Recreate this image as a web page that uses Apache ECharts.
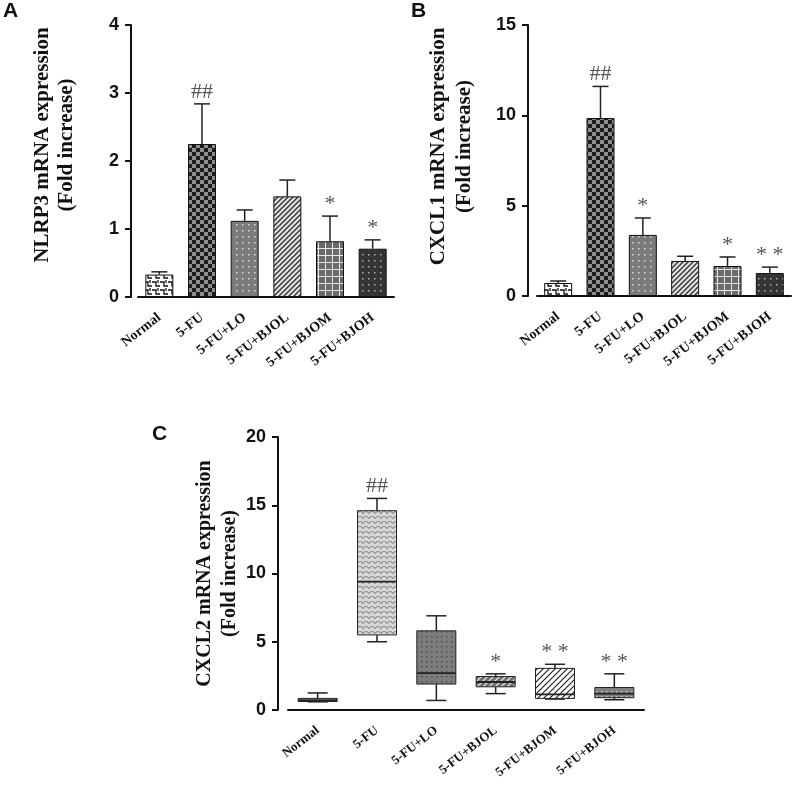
<!DOCTYPE html>
<html>
<head>
<meta charset="utf-8">
<script src="https://cdn.jsdelivr.net/npm/echarts@6/dist/echarts.min.js"></script>
<style>
  html, body { margin: 0; padding: 0; background: #fff; }
  #main { width: 803px; height: 786px; }
</style>
</head>
<body>
<div id="main"></div>
<script>
// groups (same for all three panels)
var groups = ['Normal', '5-FU', '5-FU+LO', '5-FU+BJOL', '5-FU+BJOM', '5-FU+BJOH'];

// A: NLRP3 mean and mean+SD
var nlrp3Mean = [0.33, 2.25, 1.12, 1.48, 0.82, 0.71];
var nlrp3Upper = [0.37, 2.84, 1.28, 1.72, 1.19, 0.84];
var nlrp3Sig = ['', '##', '', '', '*', '*'];

// B: CXCL1 mean and mean+SD
var cxcl1Mean = [0.72, 9.85, 3.38, 1.94, 1.66, 1.27];
var cxcl1Upper = [0.83, 11.6, 4.32, 2.2, 2.16, 1.6];
var cxcl1Sig = ['', '##', '*', '', '*', '* *'];

// C: CXCL2 box plot
var cxcl2Min = [0.6, 5.0, 0.7, 1.2, 0.8, 0.75];
var cxcl2Q1 = [0.62, 5.5, 1.9, 1.7, 0.85, 0.9];
var cxcl2Median = [0.72, 9.4, 2.7, 2.05, 1.15, 1.2];
var cxcl2Q3 = [0.85, 14.6, 5.8, 2.45, 3.05, 1.65];
var cxcl2Max = [1.25, 15.5, 6.9, 2.65, 3.35, 2.65];
var cxcl2Sig = ['', '##', '', '*', '* *', '* *'];

var yTicksA = [0, 4, 1];
var yTicksB = [0, 15, 5];
var yTicksC = [0, 20, 5];

// 图案填充
function pattern(w, h, bg, draw) {
    var c = document.createElement('canvas');
    c.width = w; c.height = h;
    var ctx = c.getContext('2d');
    ctx.fillStyle = bg;
    ctx.fillRect(0, 0, w, h);
    if (draw) draw(ctx, w, h);
    return {image: c, repeat: 'repeat'};
}
function dots(bg, fg, s) {
    return pattern(s, s, bg, function (ctx) {
        ctx.fillStyle = fg;
        ctx.fillRect(Math.floor(s / 2) - 1, Math.floor(s / 2) - 1, 1.5, 1.5);
    });
}
function diag(bg, fg, s, lw) {
    return pattern(s, s, bg, function (ctx) {
        ctx.strokeStyle = fg;
        ctx.lineWidth = lw;
        ctx.beginPath();
        ctx.moveTo(-s, s * 2); ctx.lineTo(s * 2, -s);
        ctx.moveTo(-s, s); ctx.lineTo(s, -s);
        ctx.moveTo(0, s * 2); ctx.lineTo(s * 2, 0);
        ctx.stroke();
    });
}
var checker = pattern(8, 8, '#8e8e8e', function (ctx) {
    ctx.fillStyle = '#1c1c1c';
    ctx.fillRect(0, 0, 4, 4);
    ctx.fillRect(4, 4, 4, 4);
});
var maze = pattern(8, 8, '#ffffff', function (ctx) {
    ctx.strokeStyle = '#111';
    ctx.lineWidth = 1.3;
    ctx.beginPath();
    ctx.moveTo(0, 2); ctx.lineTo(4, 2); ctx.lineTo(4, 6); ctx.lineTo(8, 6);
    ctx.moveTo(6, 0); ctx.lineTo(6, 3);
    ctx.stroke();
});
var gridPat = pattern(7, 7, '#6a6a6a', function (ctx) {
    ctx.fillStyle = '#e8e8e8';
    ctx.fillRect(3, 0, 1, 7);
    ctx.fillRect(0, 3, 7, 1);
});
var wave = pattern(6, 5, '#d6d6d6', function (ctx) {
    ctx.strokeStyle = '#666';
    ctx.lineWidth = 1;
    ctx.beginPath();
    ctx.moveTo(0.5, 1); ctx.lineTo(3, 3.5); ctx.lineTo(5.5, 1);
    ctx.stroke();
});

var barFills = [maze, checker, dots('#7b7b7b', '#dadada', 6), diag('#e2e2e2', '#333', 5, 1.4), gridPat, dots('#343434', '#b0b0b0', 6)];
var boxFills = ['#dcdcdc', wave, dots('#7d7d7d', '#4e4e4e', 5), diag('#727272', '#f0f0f0', 6, 1.2), diag('#ffffff', '#222', 6, 1.2), dots('#7f7f7f', '#c8c8c8', 5)];

var myChart = echarts.init(document.getElementById('main'));

var tickFont = {fontFamily: 'Liberation Sans', fontWeight: 'bold', fontSize: 18, color: '#111'};
var nameFont = {fontFamily: 'Liberation Serif', fontWeight: 'bold', color: '#111'};
var catFont = {fontFamily: 'Liberation Serif', fontWeight: 'bold', color: '#111'};
var sigFont = '22px "Liberation Serif"';

function xAxisOf(gi, size, pad) {
    return {
        type: 'category', gridIndex: gi, data: groups,
        axisLine: {lineStyle: {color: '#111', width: 2}},
        axisTick: {alignWithLabel: true, length: 9, lineStyle: {color: '#111', width: 2.5}},
        axisLabel: Object.assign({rotate: 38, margin: 19, interval: 0, fontSize: size, padding: [pad, 0, 0, 0]}, catFont)
    };
}
function yAxisOf(gi, ticks, name, off, gap, size, lh, pad) {
    return {
        type: 'value', gridIndex: gi, min: ticks[0], max: ticks[1], interval: ticks[2],
        offset: off,
        name: name, nameLocation: 'middle', nameGap: gap,
        nameTextStyle: Object.assign({}, nameFont, {fontSize: size, lineHeight: lh, padding: pad}),
        axisLine: {show: true, lineStyle: {color: '#111', width: 2}},
        axisTick: {show: true, length: 6, lineStyle: {color: '#111', width: 2}},
        axisLabel: Object.assign({margin: 12}, tickFont),
        splitLine: {show: false}
    };
}

// 误差线 + 显著性标记
function errorSeries(gi, mean, upper, sig) {
    return {
        type: 'custom', xAxisIndex: gi, yAxisIndex: gi, z: 5,
        data: mean.map(function (m, i) { return [i, m, upper[i]]; }),
        renderItem: function (params, api) {
            var i = api.value(0);
            var p0 = api.coord([i, api.value(1)]);
            var p1 = api.coord([i, api.value(2)]);
            var st = {stroke: '#222', lineWidth: 1.5};
            return {type: 'group', children: [
                {type: 'line', shape: {x1: p0[0], y1: p0[1], x2: p1[0], y2: p1[1]}, style: st},
                {type: 'line', shape: {x1: p1[0] - 8, y1: p1[1], x2: p1[0] + 8, y2: p1[1]}, style: st},
                {type: 'text', x: p1[0], y: p1[1] - 1, style: {
                    text: sig[i], textAlign: 'center', textVerticalAlign: 'bottom',
                    font: sigFont, fill: '#555'}}
            ]};
        }
    };
}

function barSeries(gi, mean) {
    return {
        type: 'bar', xAxisIndex: gi, yAxisIndex: gi, barWidth: 28,
        data: mean.map(function (v, i) {
            return {value: v, itemStyle: {color: barFills[i], borderColor: '#111', borderWidth: 1}};
        })
    };
}

var boxSeries = {
    type: 'custom', xAxisIndex: 2, yAxisIndex: 2, z: 5,
    data: groups.map(function (g, i) {
        return [i, cxcl2Min[i], cxcl2Q1[i], cxcl2Median[i], cxcl2Q3[i], cxcl2Max[i]];
    }),
    renderItem: function (params, api) {
        var i = api.value(0);
        var pMin = api.coord([i, api.value(1)]);
        var pQ1 = api.coord([i, api.value(2)]);
        var pMed = api.coord([i, api.value(3)]);
        var pQ3 = api.coord([i, api.value(4)]);
        var pMax = api.coord([i, api.value(5)]);
        var x = pQ1[0], hw = 19.5, cw = 10;
        var st = {stroke: '#222', lineWidth: 1.5};
        return {type: 'group', children: [
            {type: 'line', shape: {x1: x, y1: pQ3[1], x2: x, y2: pMax[1]}, style: st},
            {type: 'line', shape: {x1: x - cw, y1: pMax[1], x2: x + cw, y2: pMax[1]}, style: st},
            {type: 'line', shape: {x1: x, y1: pQ1[1], x2: x, y2: pMin[1]}, style: st},
            {type: 'line', shape: {x1: x - cw, y1: pMin[1], x2: x + cw, y2: pMin[1]}, style: st},
            {type: 'rect', shape: {x: x - hw, y: pQ3[1], width: hw * 2, height: pQ1[1] - pQ3[1]},
                style: {fill: boxFills[i], stroke: '#222', lineWidth: 1}},
            {type: 'line', shape: {x1: x - hw, y1: pMed[1], x2: x + hw, y2: pMed[1]}, style: {stroke: '#222', lineWidth: 1.8}},
            {type: 'text', x: x, y: pMax[1] - 1, style: {
                text: cxcl2Sig[i], textAlign: 'center', textVerticalAlign: 'bottom',
                font: sigFont, fill: '#555'}}
        ]};
    }
};

var letterStyle = {font: 'bold 21px "Liberation Sans"', fill: '#111'};

var option = {
    animation: false,
    backgroundColor: '#fff',
    grid: [
        {left: 138, top: 25, width: 256, height: 272},
        {left: 537, top: 25, width: 254, height: 271},
        {left: 288, top: 437, width: 356, height: 273}
    ],
    xAxis: [xAxisOf(0, 14, 12), xAxisOf(1, 14, 12), xAxisOf(2, 13, 18)],
    yAxis: [
        yAxisOf(0, yTicksA, 'NLRP3 mRNA expression\n(Fold increase)', 7, 52, 21, 24, [0, 0, 0, 32]),
        yAxisOf(1, yTicksB, 'CXCL1 mRNA expression\n(Fold increase)', 9, 50, 21, 26, [0, 0, 0, 28]),
        yAxisOf(2, yTicksC, 'CXCL2 mRNA expression\n(Fold increase)', 10, 32, 20, 25, 0)
    ],
    series: [
        barSeries(0, nlrp3Mean),
        errorSeries(0, nlrp3Mean, nlrp3Upper, nlrp3Sig),
        barSeries(1, cxcl1Mean),
        errorSeries(1, cxcl1Mean, cxcl1Upper, cxcl1Sig),
        boxSeries
    ],
    graphic: [
        {type: 'text', left: 3, top: 1, style: Object.assign({text: 'A'}, letterStyle)},
        {type: 'text', left: 411, top: 1, style: Object.assign({text: 'B'}, letterStyle)},
        {type: 'text', left: 152, top: 424, style: Object.assign({text: 'C'}, letterStyle)}
    ]
};

myChart.setOption(option);
window.onresize = myChart.resize;
</script>
</body>
</html>
